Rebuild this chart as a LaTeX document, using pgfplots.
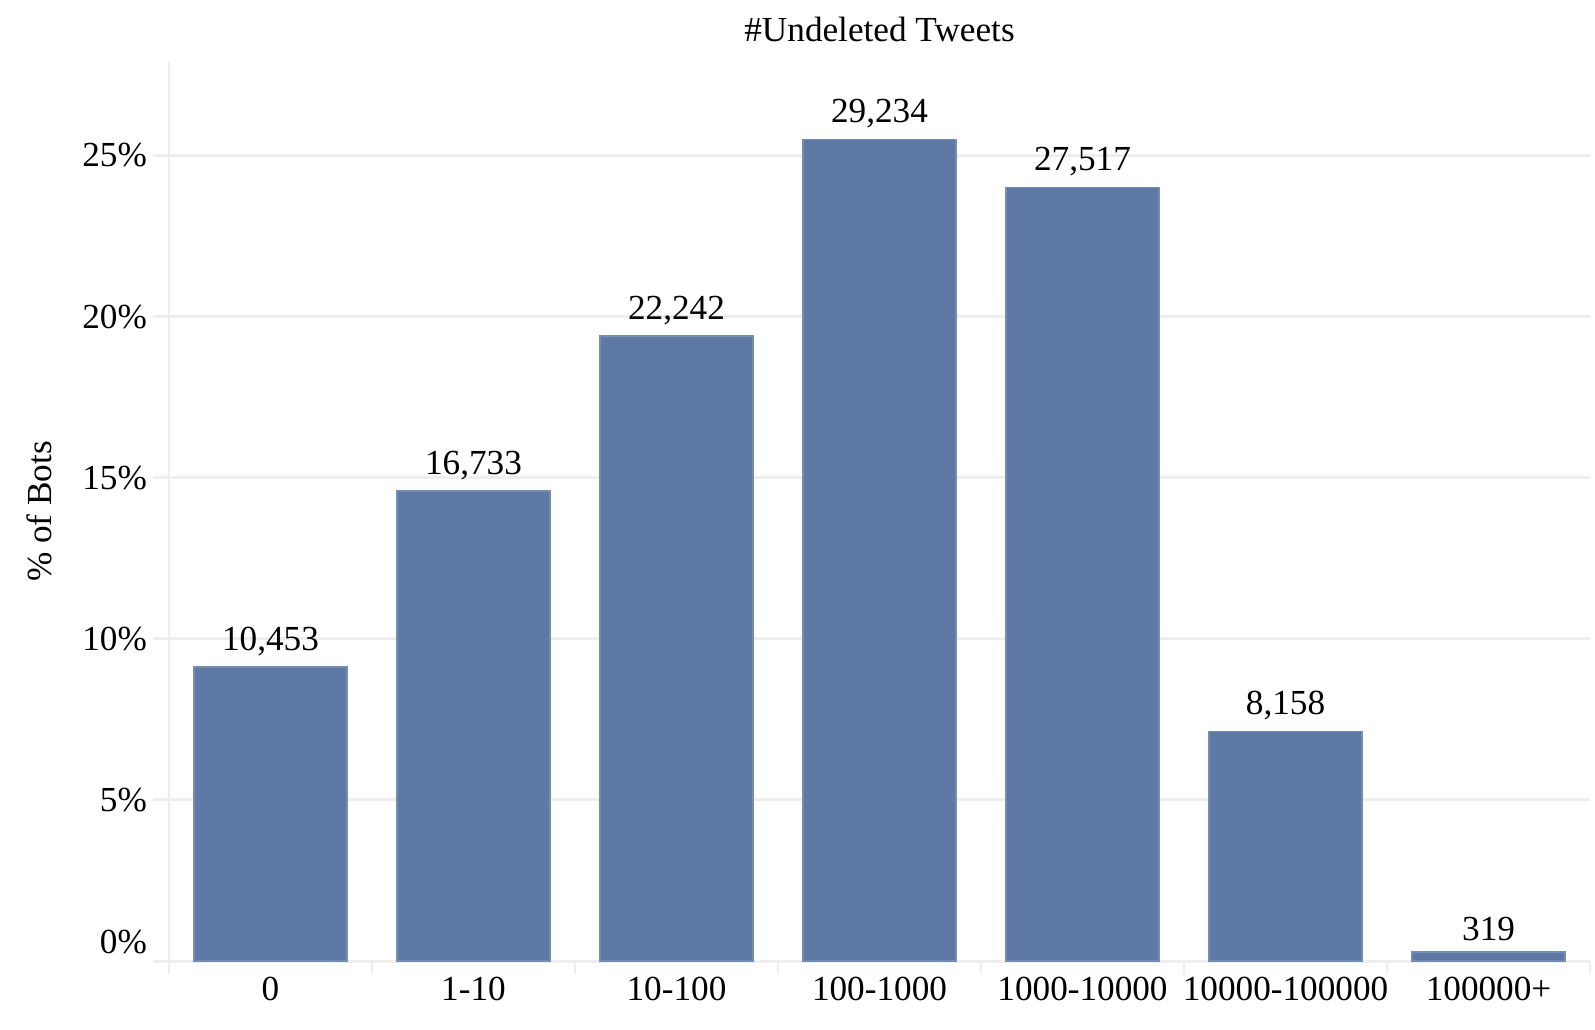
\documentclass[border=0pt]{standalone}
\usepackage{pgfplots}
\pgfplotsset{compat=1.18}
\usepackage{pgfplotstable}
\usepackage{fontspec}
\setmainfont{Liberation Serif}

\definecolor{barblue}{RGB}{94,121,165}
\definecolor{gridgray}{RGB}{238,238,238}

% pct = share of bots, count = number of bots
\pgfplotstableread{
x pct count
0 9.12 10453
1 14.59 16733
2 19.40 22242
3 25.50 29234
4 24.00 27517
5 7.12 8158
6 0.28 319
}\undeleted

\begin{document}
\begin{tikzpicture}[font=\fontsize{8.8}{10.5}\selectfont]
\begin{axis}[
    scale only axis,
    width=355.25pt, height=224.75pt,
    xmin=-0.5, xmax=6.5,
    ymin=0, ymax=27.9,
    axis x line*=bottom, axis y line*=left,
    axis line style={draw=gridgray, line width=0.6pt, -},
    xtick={0,...,6},
    xticklabels={0,1-10,10-100,100-1000,1000-10000,10000-100000,100000+},
    major x tick style={draw=none},
    minor xtick={-0.5,0.5,...,6.5},
    minor x tick style={draw=gridgray, line width=0.6pt},
    minor tick length=3.3pt,
    xticklabel style={yshift=3.5pt},
    ytick={5,10,15,20,25},
    extra y ticks={0},
    extra y tick style={yticklabel style={yshift=4.8pt}},
    major y tick style={draw=gridgray, line width=0.75pt},
    major tick length=4pt,
    tick align=outside,
    ymajorgrids=true,
    grid style={draw=gridgray, line width=0.75pt},
    yticklabel={\pgfmathprintnumber{\tick}\%},
    yticklabel style={xshift=2pt},
    /pgf/number format/assume math mode=true,
    /pgf/number format/1000 sep={,},
    title={\#Undeleted Tweets},
    title style={at={(axis description cs:0.5,1)}, anchor=center, yshift=2.25pt},
    ylabel={\% of Bots},
    ylabel style={at={(axis description cs:-0.0915,0.5)}, anchor=center},
    clip=false,
]
\addplot[ybar, bar width=0.754, fill=barblue, draw=barblue!85!white,
    point meta=explicit,
    nodes near coords={\pgfmathprintnumber{\pgfplotspointmeta}},
    nodes near coords style={anchor=south, text=black, yshift=-0.7pt}]
    table[x=x, y=pct, meta=count] {\undeleted};
\path (axis description cs:-0.1189,-0.0756) rectangle (axis description cs:1.0035,1.069);
\end{axis}
\end{tikzpicture}
\end{document}
